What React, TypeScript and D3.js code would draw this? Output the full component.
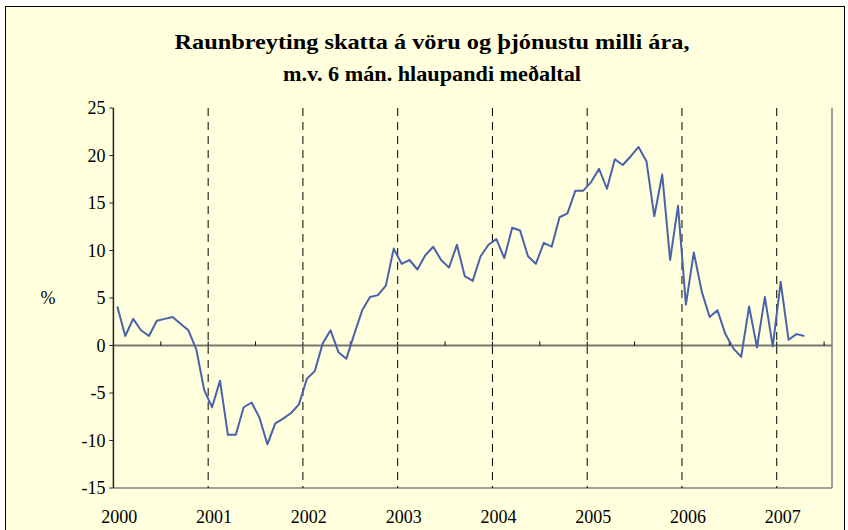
import React from "react";
import * as d3 from "d3";

const values: number[] = [
  4.1, 1.0, 2.8, 1.6, 1.0, 2.6, 2.8, 3.0, 2.3, 1.6, -0.4, -4.7,
  -6.5, -3.7, -9.4, -9.4, -6.5, -6.0, -7.6, -10.4, -8.2, -7.7, -7.1, -6.2,
  -3.5, -2.7, 0.2, 1.6, -0.7, -1.4, 1.2, 3.7, 5.1, 5.3, 6.3, 10.2,
  8.6, 9.0, 8.0, 9.5, 10.4, 9.0, 8.2, 10.6, 7.3, 6.8, 9.4, 10.6,
  11.2, 9.2, 12.4, 12.1, 9.4, 8.6, 10.8, 10.4, 13.5, 13.9, 16.3, 16.3,
  17.2, 18.6, 16.5, 19.6, 19.0, 19.9, 20.9, 19.4, 13.6, 18.0, 9.0, 14.7,
  4.3, 9.8, 5.7, 3.0, 3.7, 1.2, -0.3, -1.2, 4.1, -0.2, 5.1, -0.1,
  6.7, 0.6, 1.2, 1.0,
];

const years: string[] = ["2000", "2001", "2002", "2003", "2004", "2005", "2006", "2007"];
const yTicks: number[] = [-15, -10, -5, 0, 5, 10, 15, 20, 25];
const titleLines: string[] = [
  "Raunbreyting skatta á vöru og þjónustu milli ára,",
  "m.v. 6 mán. hlaupandi meðaltal",
];
const yLabel = "%";
const nCategories = 91;

export default function App() {
  const W = 848, H = 530;
  const left = 113.4, right = 832, top = 108, bottom = 488;
  const idx = d3.range(nCategories);
  const x = d3.scaleBand<number>().domain(idx).range([left, right]).padding(0);
  const y = d3.scaleLinear().domain([-15, 25]).range([bottom, top]);
  const cx = (i: number) => (x(i) as number) + x.bandwidth() / 2;

  const line = d3.line<number>().x((_, i) => cx(i)).y((v) => y(v));
  const font = "'Liberation Serif', 'Times New Roman', serif";
  const bg = "#FFFFDD";

  const yearBoundaries = d3.range(1, years.length).map((k) => x(k * 12) as number);
  const halfTicks = d3.range(6, nCategories, 6).map((k) => x(k) as number);
  const titleWidths = [515, 298];

  return (
    <svg width={W} height={H} style={{ position: "absolute", left: 0, top: 0, background: "#fff" }}>
      <rect x={5.5} y={6.5} width={839} height={H} fill={bg} stroke="#000" strokeWidth={1} />
      {titleLines.map((t, i) => (
        <text key={i} x={432} y={49 + i * 32} textAnchor="middle" fontFamily={font}
          fontWeight="bold" fontSize={22} fill="#000" textLength={titleWidths[i]}
          lengthAdjust="spacingAndGlyphs">{t}</text>
      ))}
      {/* plot border */}
      <line x1={left} x2={right} y1={bottom} y2={bottom} stroke="#808080" strokeWidth={1.5} />
      <line x1={right} x2={right} y1={top} y2={bottom} stroke="#808080" strokeWidth={1.5} />
      {/* dashed year lines */}
      {yearBoundaries.map((bx, i) => (
        <line key={i} x1={bx} x2={bx} y1={top} y2={bottom} stroke="#000" strokeWidth={1}
          strokeDasharray="8,6" />
      ))}
      {/* zero axis */}
      <line x1={left} x2={right} y1={y(0)} y2={y(0)} stroke="#777770" strokeWidth={1.8} />
      {halfTicks.map((tx, i) => (
        <line key={i} x1={tx} x2={tx} y1={y(0)} y2={y(0) - 4} stroke="#000" strokeWidth={1} />
      ))}
      {/* y axis */}
      <line x1={left} x2={left} y1={top} y2={bottom} stroke="#222" strokeWidth={1.5} />
      {yTicks.map((t) => (
        <g key={t}>
          <line x1={left - 4} x2={left} y1={y(t)} y2={y(t)} stroke="#222" strokeWidth={1} />
          <text x={left - 8} y={y(t)} dy="0.34em" textAnchor="end" fontFamily={font}
            fontSize={18} fill="#000">{t}</text>
        </g>
      ))}
      <text x={48} y={y(5)} dy="0.34em" textAnchor="middle" fontFamily={font} fontSize={18}>{yLabel}</text>
      {/* x labels */}
      {years.map((yr, k) => (
        <text key={yr} x={cx(k * 12) + 2} y={523} textAnchor="middle" fontFamily={font}
          fontSize={18} fill="#000">{yr}</text>
      ))}
      <path d={line(values) || ""} fill="none" stroke="#4A62AA" strokeWidth={2} strokeLinejoin="round" />
    </svg>
  );
}
